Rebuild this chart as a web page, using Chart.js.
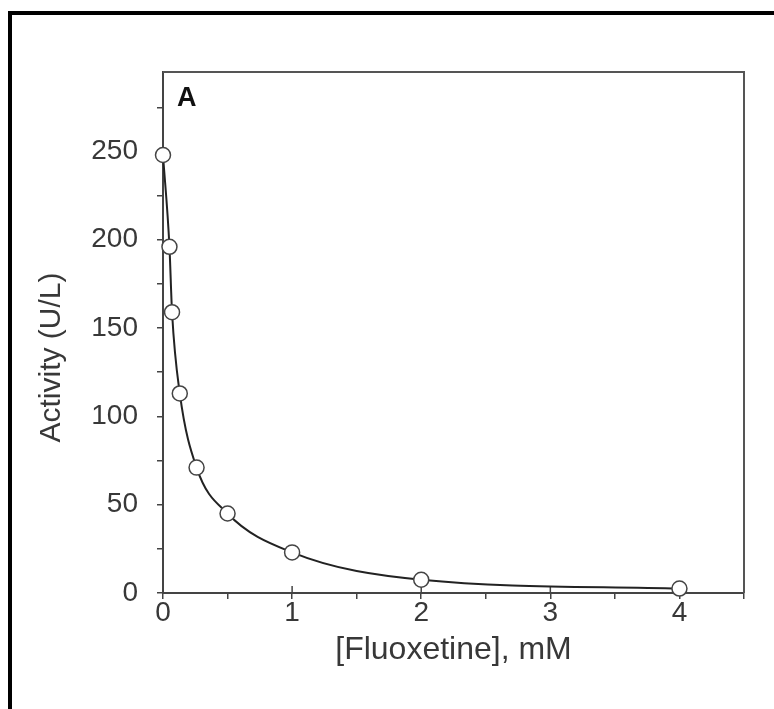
<!DOCTYPE html>
<html>
<head>
<meta charset="utf-8">
<script src="https://cdn.jsdelivr.net/npm/chart.js@4.4.1/dist/chart.umd.min.js"></script>
<style>
  html, body { margin: 0; padding: 0; background: #fff; }
  #wrap { width: 774px; height: 709px; position: relative; }
</style>
</head>
<body>
<div id="wrap"><canvas id="grafico"></canvas></div>
<script>
// Fluoxetine inhibition curve (panel A)
const fluoxetina = [0, 0.05, 0.07, 0.13, 0.26, 0.5, 1, 2, 4];
const atividade = [248, 196, 159, 113, 71, 45, 23, 7.5, 2.5];
const ticksX = [0, 1, 2, 3, 4];
const ticksY = [0, 50, 100, 150, 200, 250];

const corTexto = '#383838';
const corEixo = '#444';
const fonte = '"Liberation Sans", Arial, sans-serif';

// moldura externa, topo/direita do quadro e letra do painel
const molduraPlugin = {
    id: 'moldura',
    beforeDraw(chart) {
        const c = chart.ctx;
        c.save();
        c.fillStyle = '#fff';
        c.fillRect(0, 0, chart.width, chart.height);
        c.fillStyle = '#000';
        c.fillRect(8, 11, chart.width - 8, 4);
        c.fillRect(8, 11, 4, chart.height - 11);
        c.restore();
    },
    beforeDatasetsDraw(chart) {
        const a = chart.chartArea;
        const c = chart.ctx;
        c.save();
        c.strokeStyle = '#555';
        c.lineWidth = 2;
        c.beginPath();
        c.moveTo(a.left, a.top);
        c.lineTo(a.right, a.top);
        c.lineTo(a.right, a.bottom);
        c.stroke();
        // marcas maiores do eixo x cruzam a linha do eixo
        const sx = chart.scales.x;
        c.strokeStyle = corEixo;
        c.lineWidth = 1.5;
        ticksX.forEach(v => {
            const px = sx.getPixelForValue(v);
            c.beginPath();
            c.moveTo(px, a.bottom);
            c.lineTo(px, a.bottom - 7);
            c.stroke();
        });
        c.fillStyle = '#111';
        c.font = 'bold 27px ' + fonte;
        c.textBaseline = 'alphabetic';
        c.fillText('A', a.left + 14, a.top + 34);
        c.restore();
    }
};

new Chart(document.getElementById('grafico').getContext('2d'), {
    type: 'scatter',
    data: {
        datasets: [{
            label: 'Activity',
            data: fluoxetina.map((x, i) => ({ x: x, y: atividade[i] })),
            showLine: true,
            cubicInterpolationMode: 'monotone',
            borderColor: '#222',
            borderWidth: 2,
            pointRadius: 7.5,
            pointBackgroundColor: '#fff',
            pointBorderColor: '#444',
            pointBorderWidth: 1.5,
            clip: false
        }]
    },
    plugins: [molduraPlugin],
    options: {
        responsive: true,
        maintainAspectRatio: false,
        animation: false,
        layout: { padding: { left: 0, right: 30, top: 72, bottom: 0 } },
        plugins: {
            legend: { display: false },
            tooltip: { enabled: false }
        },
        scales: {
            x: {
                type: 'linear',
                min: 0,
                max: 4.5,
                afterFit(scale) { scale.height = 709 - 593; },
                afterBuildTicks(scale) {
                    scale.ticks = scale.ticks.filter(t => Math.abs(t.value * 2 - Math.round(t.value * 2)) < 1e-6);
                },
                ticks: {
                    stepSize: 0.5,
                    color: corTexto,
                    font: { size: 28, family: fonte },
                    padding: -3,
                    maxRotation: 0,
                    autoSkip: false,
                    callback: function(value) {
                        return ticksX.includes(value) ? String(value) : '';
                    }
                },
                grid: { drawOnChartArea: false, drawTicks: true, tickLength: 6, color: corEixo, lineWidth: 1.5 },
                border: { display: true, color: corEixo, width: 2 },
                title: {
                    display: true,
                    text: '[Fluoxetine], mM',
                    color: corTexto,
                    font: { size: 32, family: fonte },
                    padding: { top: 0, bottom: 40 }
                }
            },
            y: {
                type: 'linear',
                min: 0,
                max: 295,
                afterFit(scale) { scale.width = 163; },
                afterBuildTicks(scale) {
                    scale.ticks = scale.ticks.filter(t => t.value % 25 === 0);
                },
                ticks: {
                    stepSize: 25,
                    color: corTexto,
                    font: { size: 28, family: fonte },
                    padding: 19,
                    autoSkip: false,
                    callback: function(value) {
                        return ticksY.includes(value) ? String(value) : '';
                    }
                },
                grid: { drawOnChartArea: false, drawTicks: true, tickLength: 6, color: corEixo, lineWidth: 1.5 },
                border: { display: true, color: corEixo, width: 2 },
                title: {
                    display: true,
                    text: 'Activity (U/L)      ',
                    color: corTexto,
                    font: { size: 30, family: fonte },
                    padding: { top: 34, bottom: 0 }
                }
            }
        }
    }
});
</script>
</body>
</html>
